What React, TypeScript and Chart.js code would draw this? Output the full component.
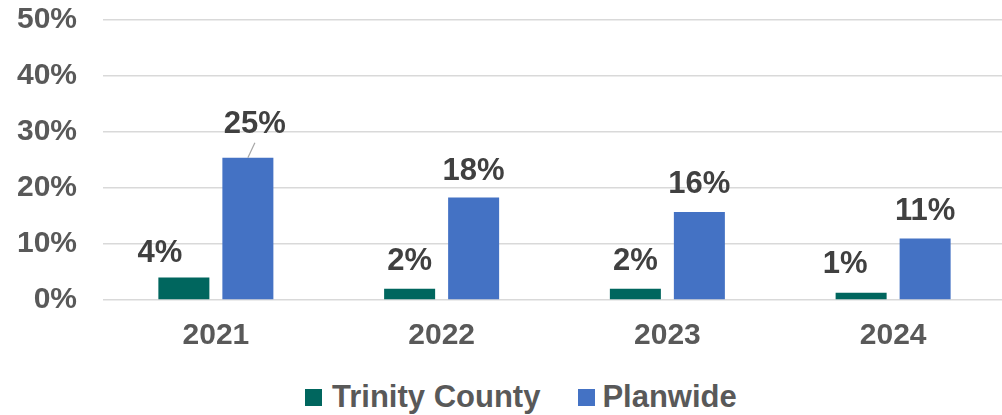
import React, { useEffect, useRef } from "react";
import { Chart, registerables } from "chart.js";

Chart.register(...registerables);

// ---- data ----
const categories = ["2021", "2022", "2023", "2024"];
const trinityCounty = [4.0, 2.0, 2.0, 1.3];
const planwide = [25.4, 18.3, 15.7, 11.0];
const yTickValues = [0, 10, 20, 30, 40, 50];
const seriesNames = ["Trinity County", "Planwide"];
const seriesColors = ["#00665E", "#4472C4"];

// ---- label placement (style) ----
const labelDx = [
  [-24, 0, 0, -16],
  [7, 0, 0, 0],
];
const labelLift = [
  [16, 19, 19, 20],
  [25, 18, 19, 18],
];
const leaderLines = [
  [false, false, false, false],
  [true, false, false, false],
];

const FONT = "'Liberation Sans', Arial, Helvetica, sans-serif";

const dataLabelPlugin = {
  id: "dataLabels",
  afterDatasetsDraw(chart: any) {
    const ctx = chart.ctx;
    ctx.save();
    chart.data.datasets.forEach((ds: any, di: number) => {
      const meta = chart.getDatasetMeta(di);
      meta.data.forEach((bar: any, i: number) => {
        const v = ds.data[i];
        const x = bar.x + labelDx[di][i];
        const y = bar.y - labelLift[di][i];
        if (leaderLines[di][i]) {
          ctx.strokeStyle = "#a6a6a6";
          ctx.lineWidth = 1.2;
          ctx.beginPath();
          ctx.moveTo(bar.x, bar.y);
          ctx.lineTo(bar.x + 7, bar.y - 15);
          ctx.stroke();
        }
        ctx.font = `bold 31px ${FONT}`;
        ctx.fillStyle = "#404040";
        ctx.textAlign = "center";
        ctx.textBaseline = "alphabetic";
        ctx.fillText(`${Math.round(v)}%`, x, y);
      });
    });
    ctx.restore();
  },
};

export default function App() {
  const canvasRef = useRef<HTMLCanvasElement | null>(null);

  useEffect(() => {
    if (!canvasRef.current) return;
    const chart = new Chart(canvasRef.current, {
      type: "bar",
      data: {
        labels: categories,
        datasets: [
          {
            label: seriesNames[0],
            data: trinityCounty,
            backgroundColor: seriesColors[0],
            categoryPercentage: 0.567,
            barPercentage: 0.797,
          },
          {
            label: seriesNames[1],
            data: planwide,
            backgroundColor: seriesColors[1],
            categoryPercentage: 0.567,
            barPercentage: 0.797,
          },
        ],
      },
      options: {
        responsive: false,
        animation: false,
        layout: { padding: { top: 20, right: 4, left: 0, bottom: 0 } },
        plugins: {
          legend: { display: false },
          tooltip: { enabled: false },
        },
        scales: {
          x: {
            grid: { display: false, drawTicks: false },
            border: { display: false },
            ticks: {
              color: "#595959",
              font: { family: FONT, size: 30, weight: "bold" },
              padding: 18,
            },
            afterFit(scale: any) {
              scale.height = 79;
              scale.paddingLeft = 0;
              scale.paddingRight = 0;
            },
          },
          y: {
            min: 0,
            max: 50,
            afterBuildTicks(scale: any) {
              scale.ticks = yTickValues.map((v) => ({ value: v }));
            },
            grid: { color: "#d9d9d9", lineWidth: 1.5, drawTicks: false },
            border: { display: false },
            ticks: {
              color: "#595959",
              font: { family: FONT, size: 30, weight: "bold" },
              padding: 26,
              callback: (v: any) => `${v}%`,
            },
            afterFit(scale: any) {
              scale.width = 103;
              scale.paddingTop = 0;
              scale.paddingBottom = 0;
            },
          },
        },
      },
      plugins: [dataLabelPlugin],
    } as any);
    return () => chart.destroy();
  }, []);

  return (
    <div
      style={{
        position: "absolute",
        left: 0,
        top: 0,
        width: 1002,
        height: 415,
        overflow: "hidden",
        background: "#ffffff",
      }}
    >
      <canvas
        ref={canvasRef}
        width={1010}
        height={379}
        style={{ position: "absolute", left: 0, top: 0, width: 1010, height: 379 }}
      />
      <div
        style={{
          position: "absolute",
          left: 305,
          top: 379,
          height: 36,
          display: "flex",
          alignItems: "center",
          fontFamily: FONT,
          fontWeight: "bold",
          fontSize: 31,
          color: "#595959",
          whiteSpace: "nowrap",
        }}
      >
        {seriesNames.map((name, i) => (
          <div
            key={name}
            style={{
              display: "flex",
              alignItems: "center",
              marginLeft: i === 0 ? 0 : 38,
            }}
          >
            <span
              style={{
                display: "inline-block",
                width: 17,
                height: 17,
                background: seriesColors[i],
                marginRight: i === 0 ? 10 : 7,
              }}
            />
            <span style={{ lineHeight: "36px" }}>{name}</span>
          </div>
        ))}
      </div>
    </div>
  );
}
